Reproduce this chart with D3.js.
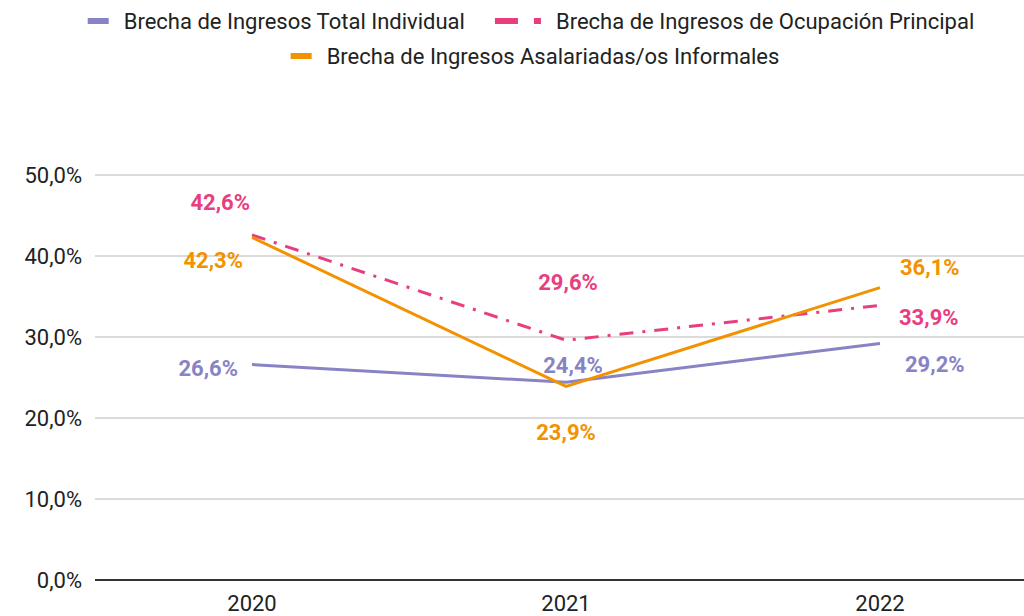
<!DOCTYPE html>
<html>
<head>
<meta charset="utf-8">
<script src="https://cdn.jsdelivr.net/npm/d3@7"></script>
<style>
  body { margin: 0; background: #fff; }
  svg { font-family: Roboto, "Noto Sans", sans-serif; display: block; }
</style>
</head>
<body>
<div id="chart"></div>
<script>
// data
var years = ["2020", "2021", "2022"];
var totalIndividual = [26.6, 24.4, 29.2];
var ocupacionPrincipal = [42.6, 29.6, 33.9];
var asalariadasInformales = [42.3, 23.9, 36.1];
var yTicks = [0, 10, 20, 30, 40, 50];

var seriesNames = [
    "Brecha de Ingresos Total Individual",
    "Brecha de Ingresos de Ocupación Principal",
    "Brecha de Ingresos Asalariadas/os Informales"
];
var colors = ["#8783c4", "#e83e7f", "#f39200"];

// label offsets (dx, dy, anchor) for each point, per series
var labelPos = [
    [[-14, 4, "end"], [7, -17, "middle"], [25, 21, "start"]],
    [[-2, -33, "end"], [2, -58, "middle"], [19, 12, "start"]],
    [[-9, 23, "end"], [0, 46, "middle"], [20, -20, "start"]]
];

var width = 1024, height = 616;
var margin = { top: 175, right: 0, bottom: 36, left: 95 };
var fontSize = 22;

var svg = d3.select("#chart")
    .append("svg")
    .attr("width", width)
    .attr("height", height);

var x = d3.scaleBand()
    .domain(years)
    .range([margin.left, 1037]);

var y = d3.scaleLinear()
    .domain([0, 50])
    .range([height - margin.bottom, margin.top]);

function pct(d) {
    return d.toFixed(1).replace(".", ",") + "%";
}

// gridlines
svg.append("g")
    .selectAll("line")
    .data(yTicks.filter(function(d) { return d > 0; }))
    .enter()
    .append("line")
    .attr("x1", margin.left)
    .attr("x2", width)
    .attr("y1", function(d) { return y(d); })
    .attr("y2", function(d) { return y(d); })
    .attr("stroke", "#cfcfcf")
    .attr("stroke-width", 1.5);

// y labels
svg.append("g")
    .selectAll("text")
    .data(yTicks)
    .enter()
    .append("text")
    .attr("x", 82)
    .attr("y", function(d) { return y(d); })
    .attr("dy", "0.35em")
    .attr("text-anchor", "end")
    .attr("font-size", fontSize)
    .attr("fill", "#222")
    .text(pct);

// baseline
svg.append("line")
    .attr("x1", margin.left)
    .attr("x2", width)
    .attr("y1", y(0))
    .attr("y2", y(0))
    .attr("stroke", "#333")
    .attr("stroke-width", 2);

// x labels
svg.append("g")
    .selectAll("text")
    .data(years)
    .enter()
    .append("text")
    .attr("x", function(d) { return x(d) + x.bandwidth() / 2; })
    .attr("y", 611)
    .attr("text-anchor", "middle")
    .attr("font-size", fontSize)
    .attr("fill", "#222")
    .text(function(d) { return d; });

var series = [totalIndividual, ocupacionPrincipal, asalariadasInformales];
var dashes = [null, "14,9,3,9", null];

var line = d3.line()
    .x(function(d, i) { return x(years[i]) + x.bandwidth() / 2; })
    .y(function(d) { return y(d); });

// pink first so orange sits on top
[1, 0, 2].forEach(function(s) {
    svg.append("path")
        .datum(series[s])
        .attr("d", line)
        .attr("fill", "none")
        .attr("stroke", colors[s])
        .attr("stroke-width", 3)
        .attr("stroke-dasharray", dashes[s]);
});

// data labels
series.forEach(function(vals, s) {
    svg.append("g")
        .selectAll("text")
        .data(vals)
        .enter()
        .append("text")
        .attr("x", function(d, i) { return x(years[i]) + x.bandwidth() / 2 + labelPos[s][i][0]; })
        .attr("y", function(d, i) { return y(d) + labelPos[s][i][1]; })
        .attr("dy", "0.35em")
        .attr("text-anchor", function(d, i) { return labelPos[s][i][2]; })
        .attr("font-size", fontSize)
        .attr("font-weight", "bold")
        .attr("fill", colors[s])
        .text(pct);
});

// legend
var legendRows = [[0, 1], [2]];
var legendY = [21, 56];
var legendCenter = [531, 535];
legendRows.forEach(function(row, r) {
    var g = svg.append("g");
    var cx = 0;
    row.forEach(function(s) {
        var item = g.append("g").attr("transform", "translate(" + cx + ",0)");
        var sw = s === 1 ? 46 : 21;
        if (s === 1) {
            item.append("line")
                .attr("x1", 0).attr("x2", sw)
                .attr("y1", 0).attr("y2", 0)
                .attr("stroke", colors[s])
                .attr("stroke-width", 6)
                .attr("stroke-dasharray", "23,16,7,100");
        } else {
            item.append("rect")
                .attr("x", 0).attr("y", -3)
                .attr("width", sw).attr("height", 6)
                .attr("fill", colors[s]);
        }
        var t = item.append("text")
            .attr("x", sw + 15)
            .attr("y", 0)
            .attr("dy", "0.35em")
            .attr("font-size", fontSize)
            .attr("fill", "#222")
            .text(seriesNames[s]);
        cx += sw + 15 + t.node().getComputedTextLength() + 30;
    });
    var bb = g.node().getBBox();
    g.attr("transform", "translate(" + (legendCenter[r] - bb.width / 2) + "," + legendY[r] + ")");
});
</script>
</body>
</html>
